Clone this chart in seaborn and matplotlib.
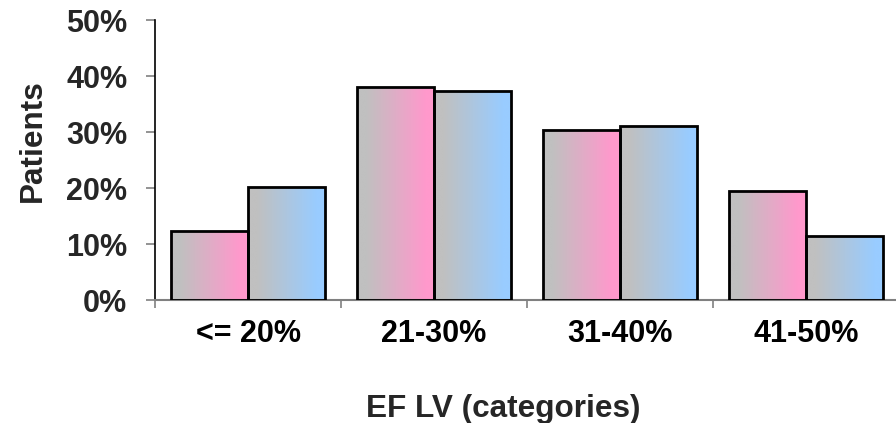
import numpy as np
import pandas as pd
import matplotlib
matplotlib.use("Agg")
import matplotlib.pyplot as plt
import seaborn as sns
from matplotlib.colors import LinearSegmentedColormap
from matplotlib.ticker import FixedLocator, FuncFormatter

categories = ["<= 20%", "21-30%", "31-40%", "41-50%"]
series_names = ["Series 1", "Series 2"]
series1 = [12.3, 38.0, 30.4, 19.5]
series2 = [20.1, 37.4, 31.1, 11.4]
y_ticks = [0, 10, 20, 30, 40, 50]

df = pd.DataFrame({
    "category": categories * 2,
    "series": [series_names[0]] * 4 + [series_names[1]] * 4,
    "value": series1 + series2,
})

sns.set_style("white")
plt.rcParams["font.family"] = ["Liberation Sans", "DejaVu Sans"]
plt.rcParams["font.weight"] = "bold"

W, H = 896, 423
fig = plt.figure(figsize=(W / 100, H / 100), dpi=100)
ax = fig.add_axes([155 / W, (H - 300) / H, (W - 155) / W, 280 / H])

sns.barplot(data=df, x="category", y="value", hue="series", order=categories,
            hue_order=series_names, width=0.83, gap=0, legend=False, ax=ax,
            edgecolor="black", linewidth=2.0)

grad_colors = [("#C0C0C0", "#FF99CC"), ("#C0C0C0", "#99CCFF")]
for cont, (c0, c1) in zip(ax.containers, grad_colors):
    cmap = LinearSegmentedColormap.from_list("g", [(0, c0), (0.12, c0), (0.88, c1), (1, c1)])
    grad = np.linspace(0, 1, 256).reshape(1, -1)
    for p in cont.patches:
        x0, y0 = p.get_x(), p.get_y()
        w, h = p.get_width(), p.get_height()
        im = ax.imshow(grad, cmap=cmap, extent=[x0, x0 + w, y0, y0 + h],
                       aspect="auto", zorder=2, interpolation="bilinear")
        im.set_clip_path(p)
        p.set_facecolor("none")
        p.set_zorder(3)

ax.set_xlim(-0.5, -0.5 + (W - 155) / 186)
ax.set_ylim(0, 50)

ax.xaxis.set_major_locator(FixedLocator([-0.5, 0.5, 1.5, 2.5, 3.5]))
ax.xaxis.set_minor_locator(FixedLocator([0, 1, 2, 3]))
ax.set_xticklabels([], minor=False)
ax.set_xticks([0, 1, 2, 3], labels=categories, minor=True)
ax.tick_params(axis="x", which="major", direction="out", length=6, width=1.2,
               color="#808080", bottom=True)
ax.tick_params(axis="x", which="minor", length=0, pad=14, labelsize=22,
               labelcolor="black")

ax.set_yticks(y_ticks)
ax.yaxis.set_major_formatter(FuncFormatter(lambda v, _: f"{v:.0f}%"))
ax.tick_params(axis="y", direction="out", length=6.5, width=1.2, color="#808080",
               left=True, pad=13.5, labelsize=22)
for lab in ax.get_yticklabels() + ax.get_xticklabels(minor=True):
    lab.set_fontweight("bold")

for s in ["top", "right"]:
    ax.spines[s].set_visible(False)
ax.spines["left"].set_color("black")
ax.spines["left"].set_linewidth(1.2)
ax.spines["bottom"].set_color("#808080")
ax.spines["bottom"].set_linewidth(1.5)

ax.set_xlabel("EF LV (categories)", fontsize=22.7, fontweight="bold")
ax.set_ylabel("Patients", fontsize=22.7, fontweight="bold")
ax.xaxis.label.set_va("center")
ax.yaxis.label.set_va("center")
ax.xaxis.set_label_coords((503 - 155) / (W - 155), -(409 - 300) / 280)
ax.yaxis.set_label_coords(-(155 - 33) / (W - 155), (300 - 141) / 280)

fig.savefig("out.png", dpi=100)
